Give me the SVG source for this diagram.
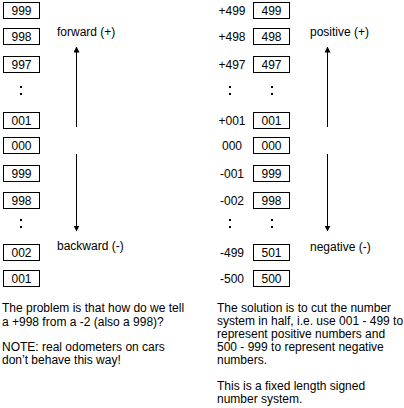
<svg xmlns="http://www.w3.org/2000/svg" width="404" height="408" viewBox="0 0 404 408">
<style>
text{font-family:"Liberation Sans",Arial,sans-serif;font-size:12px;fill:#000}
.b rect{fill:#fff;stroke:#000;stroke-width:1}
.b text{text-anchor:middle}
.lab{text-anchor:middle}
.dot{fill:#000}
.c line{stroke:#000;stroke-width:1}
</style>
<defs>
<marker id="ah" viewBox="0 0 6 6" refX="5.5" refY="3" markerWidth="6" markerHeight="6" markerUnits="userSpaceOnUse" orient="auto">
<path d="M0,0L6,3L0,6Z" fill="#000"/>
</marker>
<g id="colon"><rect class="dot" x="-1" y="-5" width="2" height="2"/><rect class="dot" x="-1" y="2" width="2" height="2"/></g>
</defs>
<rect width="404" height="408" fill="#fff"/>
<g id="left">
<g class="b" id="l999a"><rect x="3.5" y="2.5" width="36" height="16"/><text x="21.5" y="15">999</text></g>
<g class="b" id="l998a"><rect x="3.5" y="28.5" width="36" height="16"/><text x="21.5" y="41">998</text></g>
<g class="b" id="l997"><rect x="3.5" y="56.5" width="36" height="16"/><text x="21.5" y="69">997</text></g>
<use href="#colon" x="21" y="91"/>
<g class="b" id="l001a"><rect x="3.5" y="112.5" width="36" height="16"/><text x="21.5" y="125">001</text></g>
<g class="b" id="l000"><rect x="3.5" y="137.5" width="36" height="16"/><text x="21.5" y="150">000</text></g>
<g class="b" id="l999b"><rect x="3.5" y="165.5" width="36" height="16"/><text x="21.5" y="178">999</text></g>
<g class="b" id="l998b"><rect x="3.5" y="192.5" width="36" height="16"/><text x="21.5" y="205">998</text></g>
<use href="#colon" x="21" y="224"/>
<g class="b" id="l002"><rect x="3.5" y="244.5" width="36" height="16"/><text x="21.5" y="257">002</text></g>
<g class="b" id="l001b"><rect x="3.5" y="270.5" width="36" height="16"/><text x="21.5" y="283">001</text></g>
<text x="57" y="36">forward (+)</text>
<text x="57" y="250">backward (-)</text>
</g>
<g id="right">
<text class="lab" x="232" y="15">+499</text>
<text class="lab" x="232" y="41">+498</text>
<text class="lab" x="232" y="69">+497</text>
<text class="lab" x="232" y="125">+001</text>
<text class="lab" x="232" y="150">000</text>
<text class="lab" x="232" y="178">-001</text>
<text class="lab" x="232" y="205">-002</text>
<text class="lab" x="232" y="257">-499</text>
<text class="lab" x="232" y="283">-500</text>
<use href="#colon" x="230" y="91"/>
<use href="#colon" x="272" y="91"/>
<use href="#colon" x="230" y="224"/>
<use href="#colon" x="272" y="224"/>
<g class="b" id="r499"><rect x="253.5" y="2.5" width="36" height="16"/><text x="271.5" y="15">499</text></g>
<g class="b" id="r498"><rect x="253.5" y="28.5" width="36" height="16"/><text x="271.5" y="41">498</text></g>
<g class="b" id="r497"><rect x="253.5" y="56.5" width="36" height="16"/><text x="271.5" y="69">497</text></g>
<g class="b" id="r001"><rect x="253.5" y="112.5" width="36" height="16"/><text x="271.5" y="125">001</text></g>
<g class="b" id="r000"><rect x="253.5" y="137.5" width="36" height="16"/><text x="271.5" y="150">000</text></g>
<g class="b" id="r999"><rect x="253.5" y="165.5" width="36" height="16"/><text x="271.5" y="178">999</text></g>
<g class="b" id="r998"><rect x="253.5" y="192.5" width="36" height="16"/><text x="271.5" y="205">998</text></g>
<g class="b" id="r501"><rect x="253.5" y="244.5" width="36" height="16"/><text x="271.5" y="257">501</text></g>
<g class="b" id="r500"><rect x="253.5" y="270.5" width="36" height="16"/><text x="271.5" y="283">500</text></g>
<text x="310" y="36">positive (+)</text>
<text x="310" y="251">negative (-)</text>
</g>
<g class="c" id="connectors">
<line x1="76.5" y1="127" x2="76.5" y2="47" marker-end="url(#ah)"/>
<line x1="76.5" y1="154" x2="76.5" y2="231" marker-end="url(#ah)"/>
<line x1="327.5" y1="127" x2="327.5" y2="47" marker-end="url(#ah)"/>
<line x1="327.5" y1="154" x2="327.5" y2="231" marker-end="url(#ah)"/>
</g>
<g id="notes">
<text x="2" y="312">The problem is that how do we tell</text>
<text x="2" y="326">a +998 from a -2 (also a 998)?</text>
<text x="2" y="351">NOTE: real odometers on cars</text>
<text x="2" y="364">don’t behave this way!</text>
<text x="217" y="312">The solution is to cut the number</text>
<text x="217" y="325">system in half, i.e. use 001 - 499 to</text>
<text x="217" y="338">represent positive numbers and</text>
<text x="217" y="351">500 - 999 to represent negative</text>
<text x="217" y="364">numbers.</text>
<text x="217" y="390">This is a fixed length signed</text>
<text x="217" y="403">number system.</text>
</g>
</svg>
